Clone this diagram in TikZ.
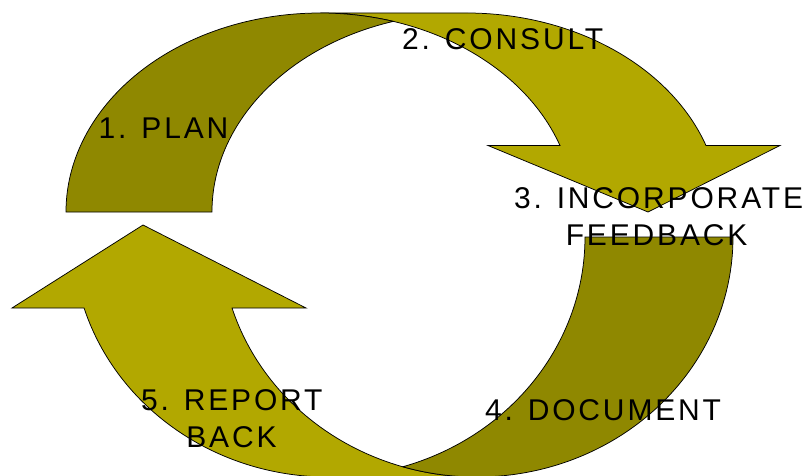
\documentclass[tikz,border=0pt]{standalone}
\usepackage{fontspec}
\setmainfont{Liberation Sans}
\definecolor{olivelight}{RGB}{178,168,0}
\definecolor{olivedark}{RGB}{143,136,0}
\begin{document}
\begin{tikzpicture}[x=1pt,y=1pt,
  band/.style={draw=black, line width=0.75pt, line join=miter},
  lbl/.style={anchor=base west, inner sep=0pt, text=black,
    font=\fontsize{30}{36}\selectfont\addfontfeature{LetterSpace=9.5}}]
\useasboundingbox (0,0) rectangle (803,475);
% top curved arrow (light front part)
\path[band, fill=olivelight] (648,263) -- (780,329.5) -- (706,329.5)
  arc[start angle=19.52, end angle=90, x radius=254.3pt, y radius=199pt]
  -- (320.3,462)
  arc[start angle=90, end angle=19.52, x radius=254.3pt, y radius=199pt]
  -- (488,329.5) -- cycle;
% top curved arrow (dark back part)
\path[band, fill=olivedark] (66,263)
  arc[start angle=180, end angle=73.32, x radius=254.3pt, y radius=199pt]
  arc[start angle=106.68, end angle=180, x radius=254.3pt, y radius=199pt]
  -- cycle;
% bottom curved arrow (light front part)
\path[band, fill=olivelight] (143,250) -- (306,167) -- (232.05,167)
  arc[start angle=197.21, end angle=270, x radius=256.2pt, y radius=240pt]
  -- (328.8,-2)
  arc[start angle=270, end angle=197.21, x radius=256.2pt, y radius=240pt]
  -- (12,167) -- cycle;
% bottom curved arrow (dark back part)
\path[band, fill=olivedark] (733,238)
  arc[start angle=360, end angle=253.21, x radius=256.2pt, y radius=240pt]
  arc[start angle=-73.21, end angle=0, x radius=256.2pt, y radius=240pt]
  -- cycle;
% labels
\node[lbl] (plan) at (98.5,337) {1. PLAN};
\node[lbl] (consult) at (402,425.7) {2. CONSULT};
\node[lbl] (incorp) at (513.8,267) {3. INCORPORATE};
\node[lbl] (feedback) at (565.6,230) {FEEDBACK};
\node[lbl] (document) at (484.8,55) {4. DOCUMENT};
\node[lbl] (report) at (140.8,65) {5. REPORT};
\node[lbl] (back) at (186.2,28) {BACK};
\end{tikzpicture}
\end{document}
